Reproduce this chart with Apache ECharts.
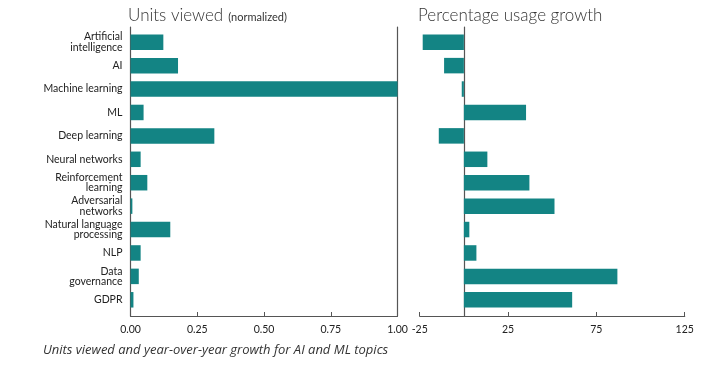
<!DOCTYPE html>
<html><head><meta charset="utf-8">
<script src="https://cdn.jsdelivr.net/npm/echarts@6/dist/echarts.min.js"></script>
<style>html,body{margin:0;padding:0;background:#fff}#c{width:706px;height:370px}</style>
</head><body><div id="c"></div>
<script>
const categories = ["Artificial\nintelligence","AI","Machine learning","ML","Deep learning","Neural networks","Reinforcement\nlearning","Adversarial\nnetworks","Natural language\nprocessing","NLP","Data\ngovernance","GDPR"];
const unitsViewed = [0.123,0.178,1.0,0.049,0.314,0.038,0.063,0.007,0.149,0.038,0.031,0.011];
const usageGrowth = [-23.3,-11.2,-1.2,35.2,-14.2,13.3,37.1,51.3,3.1,7.1,86.9,61.3];
const leftTicks = [0,0.25,0.5,0.75,1];
const rightTicks = [-25,25,75,125];

const AX = '#555';
const TXT = '#222';
const FONT = 'Lato';
const BAR = '#138484';

const chart = echarts.init(document.getElementById('c'), null, {renderer:'canvas'});
const hiddenX = (min,max,g)=>({type:'value',gridIndex:g,min:min,max:max,show:false});
chart.setOption({
  animation:false,
  title:[
    {text:'{a|Units viewed} {b|(normalized)}',left:123,top:2,
     textStyle:{fontWeight:'normal',rich:{a:{fontFamily:FONT,fontSize:17,color:'#333',fontWeight:300},b:{fontFamily:FONT,fontSize:11,color:'#333',fontWeight:'normal',padding:[3,0,0,0]}}}},
    {text:'Percentage usage growth',left:413,top:2,textStyle:{fontFamily:FONT,fontSize:17,color:'#333',fontWeight:300}},
    {text:'Units viewed and year-over-year growth for AI and ML topics',left:38,top:339,
     textStyle:{fontFamily:'Open Sans',fontStyle:'italic',fontSize:13,color:'#333',fontWeight:'normal'}}
  ],
  grid:[
    {left:130.5,top:27,width:267,height:289},
    {left:130.5,top:30.5,width:267,height:281},
    {left:419.7,top:27,width:265,height:289},
    {left:419.7,top:30.5,width:265,height:281}
  ],
  xAxis:[
    {type:'value',gridIndex:0,min:0,max:1,
     axisLine:{show:true,onZero:false,lineStyle:{color:AX,width:1.2}},
     axisTick:{show:true,inside:true,length:4,customValues:leftTicks,lineStyle:{color:AX}},
     axisLabel:{customValues:leftTicks,formatter:v=>v.toFixed(2),color:TXT,fontFamily:FONT,fontSize:10.5,margin:8},
     splitLine:{show:false}},
    hiddenX(0,1,1),
    {type:'value',gridIndex:2,min:-25,max:125,
     axisLine:{show:true,onZero:false,lineStyle:{color:AX,width:1.2}},
     axisTick:{show:true,inside:true,length:4,customValues:rightTicks,lineStyle:{color:AX}},
     axisLabel:{customValues:rightTicks,color:TXT,fontFamily:FONT,fontSize:10.5,margin:8},
     splitLine:{show:false}},
    hiddenX(-25,125,3)
  ],
  yAxis:[
    {type:'value',gridIndex:0,min:0,max:1,position:'left',
     axisLine:{show:true,onZero:false,lineStyle:{color:AX,width:1.2}},axisTick:{show:false},axisLabel:{show:false},splitLine:{show:false}},
    {type:'value',gridIndex:0,min:0,max:1,position:'right',
     axisLine:{show:true,onZero:false,lineStyle:{color:AX,width:1.2}},axisTick:{show:false},axisLabel:{show:false},splitLine:{show:false}},
    {type:'category',gridIndex:1,data:categories,inverse:true,
     axisLine:{show:false},axisTick:{show:false},
     axisLabel:{color:TXT,fontFamily:FONT,fontSize:10.5,lineHeight:10.5,margin:8,align:'right'}},
    {type:'value',gridIndex:2,min:0,max:1,
     axisLine:{show:true,onZero:true,lineStyle:{color:AX,width:1.2}},axisTick:{show:false},axisLabel:{show:false},splitLine:{show:false}},
    {type:'category',gridIndex:3,data:categories,inverse:true,show:false}
  ],
  series:[
    {type:'bar',xAxisIndex:1,yAxisIndex:2,data:unitsViewed,barWidth:15.5,itemStyle:{color:BAR},z:1},
    {type:'bar',xAxisIndex:3,yAxisIndex:4,data:usageGrowth,barWidth:15.5,itemStyle:{color:BAR},z:1}
  ]
});
</script></body></html>
